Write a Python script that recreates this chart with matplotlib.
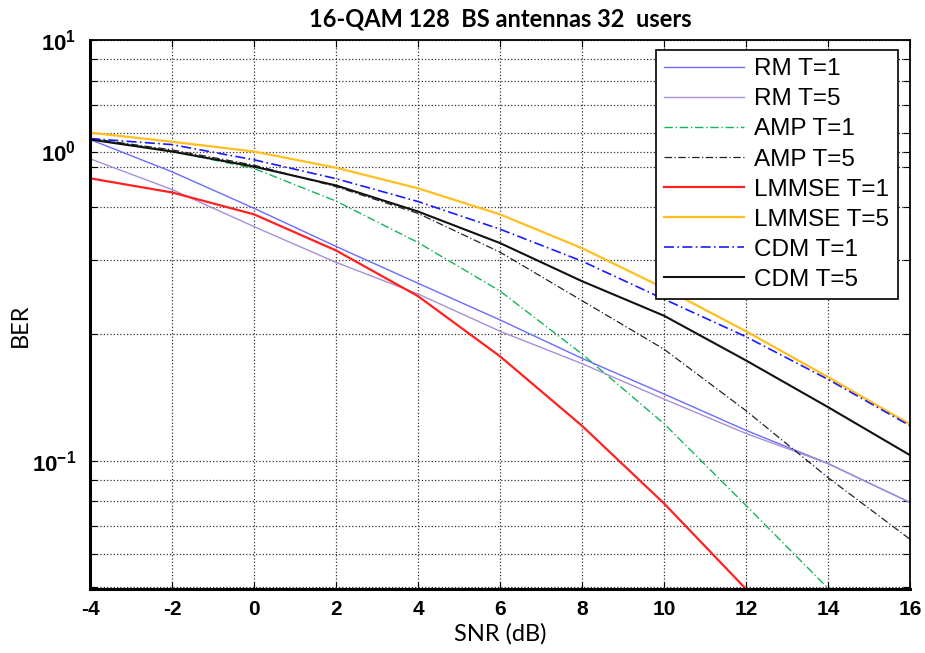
import matplotlib
matplotlib.use("Agg")
import matplotlib.pyplot as plt
from matplotlib.ticker import FixedLocator, NullFormatter

plt.rcParams['font.family'] = ['Liberation Sans', 'DejaVu Sans']
plt.rcParams['mathtext.fontset'] = 'custom'
plt.rcParams['mathtext.rm'] = 'Liberation Sans:bold'
plt.rcParams['mathtext.bf'] = 'Liberation Sans:bold'
plt.rcParams['mathtext.it'] = 'Liberation Sans:bold'

snr = [-4, -2, 0, 2, 4, 6, 8, 10, 12, 14, 16]

rm_t1 = [0.580, 0.486, 0.398, 0.323, 0.264, 0.216, 0.175, 0.144, 0.118, 0.0984, 0.0795]
rm_t5 = [0.522, 0.441, 0.360, 0.296, 0.249, 0.203, 0.170, 0.140, 0.116, 0.0984, 0.0795]
amp_t1 = [0.583, 0.544, 0.495, 0.414, 0.330, 0.253, 0.1793, 0.1224, 0.0782, 0.0497]
amp_t5 = [0.583, 0.548, 0.504, 0.448, 0.387, 0.313, 0.240, 0.184, 0.1314, 0.0911, 0.065]
lmmse_t1 = [0.469, 0.434, 0.385, 0.316, 0.246, 0.177, 0.121, 0.0791, 0.0495]
lmmse_t5 = [0.602, 0.573, 0.543, 0.497, 0.444, 0.385, 0.320, 0.257, 0.203, 0.158, 0.122]
cdm_t1 = [0.583, 0.564, 0.519, 0.468, 0.413, 0.355, 0.298, 0.242, 0.197, 0.156, 0.121]
cdm_t5 = [0.580, 0.543, 0.500, 0.451, 0.391, 0.329, 0.267, 0.221, 0.173, 0.134, 0.103]

labels = ["RM T=1", "RM T=5", "AMP T=1", "AMP T=5",
          "LMMSE T=1", "LMMSE T=5", "CDM T=1", "CDM T=5"]

ytick_vals = [0.1, 0.543, 1.0]
ytick_labels = [r'$10^{-1}$', r'$10^{0}$', r'$10^{1}$']
yminor_vals = [0.05, 0.06, 0.07, 0.08, 0.09, 0.2, 0.3, 0.4, 0.5, 0.6, 0.7, 0.8, 0.9]

fig = plt.figure(figsize=(9.25, 6.53), dpi=100)
ax = fig.add_axes([90/925, 1-589/653, 820/925, 549/653])

ax.plot(snr, rm_t1, color='#6b6bff', lw=1.0, ls='-', label=labels[0])
ax.plot(snr, rm_t5, color='#a98fd6', lw=1.0, ls='-', label=labels[1])
ax.plot(snr[:len(amp_t1)], amp_t1, color='#14b45a', lw=1.0, ls=(0, (6, 2, 1, 2)), label=labels[2])
ax.plot(snr, amp_t5, color='#222222', lw=0.9, ls=(0, (6, 2, 1, 2)), label=labels[3])
ax.plot(snr[:len(lmmse_t1)], lmmse_t1, color='#ff2020', lw=1.6, ls='-', label=labels[4])
ax.plot(snr, lmmse_t5, color='#ffbf1f', lw=1.6, ls='-', label=labels[5])
ax.plot(snr, cdm_t1, color='#1a1aff', lw=1.2, ls=(0, (6, 2, 1, 2)), label=labels[6])
ax.plot(snr, cdm_t5, color='#111111', lw=1.5, ls='-', label=labels[7])

ax.set_yscale('log')
ax.set_xlim(-4, 16)
ax.set_ylim(0.0495, 1.0)
ax.set_xticks(snr)
ax.set_xticklabels([str(v) for v in snr], fontsize=15, fontweight='bold')
ax.yaxis.set_major_locator(FixedLocator(ytick_vals))
ax.set_yticklabels(ytick_labels, fontsize=16)
ax.yaxis.set_minor_locator(FixedLocator(yminor_vals))
ax.yaxis.set_minor_formatter(NullFormatter())

ax.grid(True, which='major', color='#333333', ls=':', lw=0.9)
ax.grid(True, which='minor', axis='y', color='#333333', ls=':', lw=0.9)
ax.tick_params(which='both', direction='in', top=True, right=True, length=5, width=0.8)
ax.tick_params(axis='x', pad=8)
ax.tick_params(axis='y', pad=10)

for side in ['left', 'bottom']:
    ax.spines[side].set_linewidth(2.2)
for side in ['top', 'right']:
    ax.spines[side].set_linewidth(1.3)

ax.set_xlabel('SNR (dB)', fontsize=17, family=['Lato', 'DejaVu Sans'])
ax.xaxis.set_label_coords(0.5, (589-623)/549)
ax.set_ylabel('BER', fontsize=17, family=['Lato', 'DejaVu Sans'])
ax.yaxis.set_label_coords((31-90)/820, (589-325)/549)
ax.set_title('16-QAM 128  BS antennas 32  users', fontsize=17, fontweight='bold',
             family=['Lato', 'DejaVu Sans'], pad=10)

leg = ax.legend(loc='upper right', bbox_to_anchor=(0.985, 0.982), borderaxespad=0,
                fontsize=17.5, frameon=True, fancybox=False, framealpha=1,
                edgecolor='black', handlelength=3.3, handletextpad=0.4,
                labelspacing=0.33, borderpad=0.35, markerfirst=True)
leg.get_frame().set_linewidth(1.2)

fig.savefig('out.png', dpi=100)
